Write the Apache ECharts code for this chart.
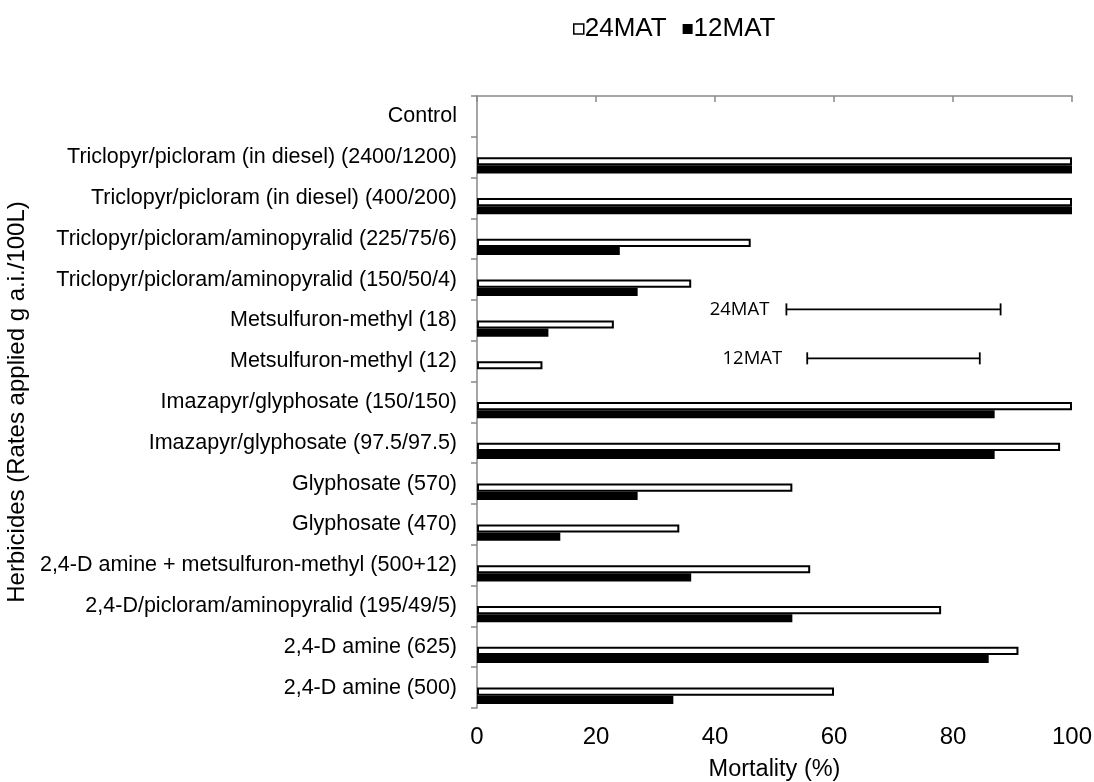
<!DOCTYPE html>
<html>
<head>
<meta charset="utf-8">
<title>Herbicide mortality</title>
<script src="https://cdn.jsdelivr.net/npm/echarts@6/dist/echarts.min.js"></script>
<style>
  html, body { margin: 0; padding: 0; background: #fff; }
  #chart { width: 1094px; height: 782px; }
</style>
</head>
<body>
<div id="chart"></div>
<script>
// Herbicide treatments, listed top to bottom
const categories = [
  'Control',
  'Triclopyr/picloram (in diesel) (2400/1200)',
  'Triclopyr/picloram (in diesel) (400/200)',
  'Triclopyr/picloram/aminopyralid (225/75/6)',
  'Triclopyr/picloram/aminopyralid (150/50/4)',
  'Metsulfuron-methyl (18)',
  'Metsulfuron-methyl (12)',
  'Imazapyr/glyphosate (150/150)',
  'Imazapyr/glyphosate (97.5/97.5)',
  'Glyphosate (570)',
  'Glyphosate (470)',
  '2,4-D amine + metsulfuron-methyl (500+12)',
  '2,4-D/picloram/aminopyralid (195/49/5)',
  '2,4-D amine (625)',
  '2,4-D amine (500)'
];

// Mortality (%) 24 and 12 months after treatment
const mat24 = [0, 100, 100, 46, 36, 23, 11, 100, 98, 53, 34, 56, 78, 91, 60];
const mat12 = [0, 100, 100, 24, 27, 12, 0, 87, 87, 27, 14, 36, 53, 86, 33];

// LSD bars: name, low end, high end (%), and row position counted from the top
const lsdNames = ['24MAT', '12MAT'];
const lsdLow = [52, 55.5];
const lsdHigh = [88, 84.5];
const lsdRow = [5.23, 6.43];

const xTicks = [0, 20, 40, 60, 80, 100];

const AXIS_GREY = '#898989';
const FONT = '"Liberation Sans", Arial, sans-serif';

const labelGap = { '24MAT': 17, '12MAT': 25 };

function barData(values) {
  // zero-length bars get no outline so nothing is left standing on the axis
  return values.map(v => (v === 0 ? { value: v, itemStyle: { borderWidth: 0 } } : v));
}

const chart = echarts.init(document.getElementById('chart'), null, { renderer: 'canvas' });

chart.setOption({
  animation: false,
  backgroundColor: '#fff',
  textStyle: { fontFamily: FONT, color: '#000' },
  grid: {
    left: 477, right: 22, top: 96, bottom: 74,
    containLabel: false,
    outerBoundsMode: 'none'
  },
  legend: {
    left: 568,
    top: 11,
    icon: 'rect',
    itemWidth: 10,
    itemHeight: 10,
    itemGap: 16,
    selectedMode: false,
    textStyle: { fontFamily: FONT, fontSize: 26, color: '#000', padding: [0, 0, 0, -4] },
    data: [
      { name: '24MAT', itemStyle: { color: '#fff', borderColor: '#000', borderWidth: 1.5 } },
      { name: '12MAT', itemStyle: { color: '#000', borderWidth: 0 } }
    ]
  },
  xAxis: {
    type: 'value',
    min: xTicks[0],
    max: xTicks[xTicks.length - 1],
    interval: 20,
    name: 'Mortality (%)',
    nameLocation: 'middle',
    nameGap: 50,
    nameTextStyle: { fontFamily: FONT, fontSize: 23.5, color: '#000' },
    axisLine: { show: true, lineStyle: { color: AXIS_GREY, width: 1.5 } },
    axisTick: { show: true, length: 6, lineStyle: { color: AXIS_GREY, width: 1.5 } },
    axisLabel: { fontFamily: FONT, fontSize: 24, color: '#000', margin: 17 },
    splitLine: { show: false }
  },
  yAxis: [
    {
      type: 'category',
      data: categories,
      inverse: true,
      name: 'Herbicides (Rates applied g a.i./100L)',
      nameLocation: 'middle',
      nameRotate: 90,
      nameGap: 439,
      nameTextStyle: { fontFamily: FONT, fontSize: 24, color: '#000' },
      axisLine: { show: true, lineStyle: { color: AXIS_GREY, width: 1.5 } },
      axisTick: { show: true, length: 6, lineStyle: { color: AXIS_GREY, width: 1.5 } },
      axisLabel: { fontFamily: FONT, fontSize: 21.5, color: '#000', margin: 20 },
      splitLine: { show: false }
    },
    {
      // row scale used to place the LSD bars between treatments
      type: 'value',
      min: 0,
      max: categories.length,
      inverse: true,
      show: false
    }
  ],
  series: [
    // two empty slots above the bars keep each pair just below its label
    { name: 'slotA', type: 'bar', data: [], barGap: '0%', barCategoryGap: '20%' },
    { name: 'slotB', type: 'bar', data: [], barGap: '0%', barCategoryGap: '20%' },
    {
      name: '24MAT',
      type: 'bar',
      data: barData(mat24),
      barGap: '0%',
      barCategoryGap: '20%',
      itemStyle: { color: '#fff', borderColor: '#000', borderWidth: 2 }
    },
    {
      name: '12MAT',
      type: 'bar',
      data: barData(mat12),
      barGap: '0%',
      barCategoryGap: '20%',
      itemStyle: { color: '#000' }
    },
    {
      name: 'LSD',
      type: 'custom',
      yAxisIndex: 1,
      silent: true,
      clip: false,
      data: lsdNames.map((n, i) => [lsdLow[i], lsdHigh[i], lsdRow[i]]),
      renderItem: function (params, api) {
        const name = lsdNames[params.dataIndex];
        const a = api.coord([api.value(0), api.value(2)]);
        const b = api.coord([api.value(1), api.value(2)]);
        const cap = 6;
        const lineStyle = { stroke: '#000', lineWidth: 1.8 };
        return {
          type: 'group',
          children: [
            { type: 'line', shape: { x1: a[0], y1: a[1], x2: b[0], y2: b[1] }, style: lineStyle },
            { type: 'line', shape: { x1: a[0], y1: a[1] - cap, x2: a[0], y2: a[1] + cap }, style: lineStyle },
            { type: 'line', shape: { x1: b[0], y1: b[1] - cap, x2: b[0], y2: b[1] + cap }, style: lineStyle },
            {
              type: 'text',
              style: {
                text: name,
                x: a[0] - labelGap[name],
                y: a[1],
                align: 'right',
                verticalAlign: 'middle',
                fontFamily: '"Open Sans", "Noto Sans", sans-serif',
                fontSize: 18.5,
                fill: '#000'
              }
            }
          ]
        };
      }
    }
  ]
});
</script>
</body>
</html>
